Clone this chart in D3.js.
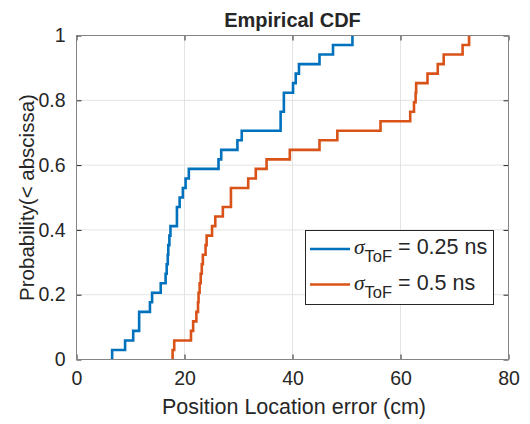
<!DOCTYPE html>
<html>
  <head>
    <meta charset="utf-8">
    <title>Empirical CDF</title>
    <script type="text/javascript" src="https://d3js.org/d3.v7.min.js"></script>
    <style type="text/css">
      body { margin: 0; background: #fff; }
      text { font-family: "Liberation Sans", Arial, Helvetica, sans-serif; fill: #262626; }
    </style>
  </head>
  <body>
    <script type="text/javascript">

      //Error samples (cm), 34 per series
      var errBlue = [6.6, 9.0, 10.5, 11.6, 11.6, 13.6, 14.0, 15.6,
                     16.5, 16.7, 16.9, 17.0, 17.2, 17.4, 18.6, 18.6,
                     19.1, 19.7, 20.2, 20.8, 26.3, 26.8, 29.8, 30.6,
                     37.8, 37.8, 38.4, 38.4, 40.1, 40.6, 41.2, 45.0, 47.5, 51.1];
      var errOrange = [17.8, 18.1, 21.2, 21.6, 22.2, 22.5, 22.6, 22.8, 23.0, 23.2,
                       23.4, 23.9, 24.1, 25.1, 25.7, 27.1, 28.6, 28.6, 31.8, 33.2,
                       35.2, 39.5, 45.0, 48.3, 56.3, 61.8, 62.5, 62.8, 62.9, 65.0,
                       66.9, 68.0, 71.5, 72.7];

      var seriesNames = ["0.25 ns", "0.5 ns"];
      var seriesColors = ["#0072BD", "#D95319"];
      var xTicks = [0, 20, 40, 60, 80];
      var yTicks = [0, 0.2, 0.4, 0.6, 0.8, 1];

      //Width and height
      var w = 530;
      var h = 424;
      var pL = 76.5, pR = 508.5, pT = 35.5, pB = 359.5;

      var x = d3.scaleLinear().domain([0, 80]).range([pL, pR]);
      var y = d3.scaleLinear().domain([0, 1]).range([pB, pT]);

      var svg = d3.select("body")
            .append("svg")
            .attr("width", w)
            .attr("height", h);

      //Grid
      svg.append("g").selectAll("line")
         .data(xTicks.slice(1, -1))
         .enter().append("line")
         .attr("x1", d => x(d)).attr("x2", d => x(d))
         .attr("y1", pT).attr("y2", pB)
         .attr("stroke", "#e3e3e3").attr("stroke-width", 1);
      svg.append("g").selectAll("line")
         .data(yTicks.slice(1, -1))
         .enter().append("line")
         .attr("y1", d => y(d)).attr("y2", d => y(d))
         .attr("x1", pL).attr("x2", pR)
         .attr("stroke", "#e3e3e3").attr("stroke-width", 1);

      //ECDF step points
      function ecdf(vals) {
        var s = vals.slice().sort(d3.ascending);
        var n = s.length;
        var pts = [[s[0], 0]];
        for (var i = 0; i < n; i++) {
          if (i == n - 1 || s[i + 1] != s[i]) pts.push([s[i], (i + 1) / n]);
        }
        return pts;
      }

      var line = d3.line()
        .x(d => x(d[0]))
        .y(d => y(d[1]))
        .curve(d3.curveStepAfter);

      [errBlue, errOrange].forEach(function(vals, i) {
        svg.append("path")
           .attr("d", line(ecdf(vals)))
           .attr("fill", "none")
           .attr("stroke", seriesColors[i])
           .attr("stroke-width", 2.6);
      });

      //Axes (inward ticks, box)
      var xAxis = d3.axisBottom(x).tickValues(xTicks).tickSizeInner(-5).tickSizeOuter(0).tickPadding(12);
      var yAxis = d3.axisLeft(y).tickValues(yTicks).tickFormat(d3.format("~g")).tickSizeInner(-5).tickSizeOuter(0).tickPadding(11);

      svg.append("g").attr("transform", "translate(0," + pB + ")").call(xAxis);
      svg.append("g").attr("transform", "translate(" + pL + ",0)").call(yAxis);
      svg.append("g").attr("transform", "translate(0," + pT + ")")
         .call(d3.axisTop(x).tickValues(xTicks).tickSizeInner(-5).tickSizeOuter(0).tickFormat(""));
      svg.append("g").attr("transform", "translate(" + pR + ",0)")
         .call(d3.axisRight(y).tickValues(yTicks).tickSizeInner(-5).tickSizeOuter(0).tickFormat(""));

      svg.selectAll(".domain").remove();
      svg.selectAll(".tick line").attr("stroke", "#262626");
      svg.selectAll(".tick text").style("font-size", "19.5px").attr("fill", "#262626");

      svg.append("rect")
         .attr("x", pL).attr("y", pT)
         .attr("width", pR - pL).attr("height", pB - pT)
         .attr("fill", "none").attr("stroke", "#858585").attr("stroke-width", 1);

      //Title and labels
      svg.append("text")
         .attr("x", (pL + pR) / 2).attr("y", 27)
         .attr("text-anchor", "middle")
         .style("font-size", "20px").style("font-weight", "bold")
         .attr("fill", "#000")
         .text("Empirical CDF");

      svg.append("text")
         .attr("x", 294).attr("y", 414)
         .attr("text-anchor", "middle")
         .style("font-size", "21.5px")
         .text("Position Location error (cm)");

      svg.append("text")
         .attr("transform", "translate(34," + (pT + pB) / 2 + ") rotate(-90)")
         .attr("text-anchor", "middle")
         .style("font-size", "20.5px")
         .text("Probability(< abscissa)");

      //Legend
      var lg = svg.append("g");
      lg.append("rect")
        .attr("x", 305.5).attr("y", 230.5).attr("width", 188).attr("height", 74)
        .attr("fill", "#fff").attr("stroke", "#262626").attr("stroke-width", 1);
      seriesNames.forEach(function(name, i) {
        var ly = 249 + i * 35.5;
        lg.append("line")
          .attr("x1", 310).attr("x2", 350).attr("y1", ly).attr("y2", ly)
          .attr("stroke", seriesColors[i]).attr("stroke-width", 2.6);
        var t = lg.append("text").attr("x", 354).attr("y", ly + 5).style("font-size", "21.5px");
        t.append("tspan").style("font-family", "'Liberation Serif', 'Times New Roman', serif")
         .style("font-style", "italic").text("\u03c3");
        t.append("tspan").attr("dy", 8).style("font-size", "16.5px").text("ToF");
        t.append("tspan").attr("dy", -8).text(" = " + name);
      });
    </script>
  </body>
</html>
